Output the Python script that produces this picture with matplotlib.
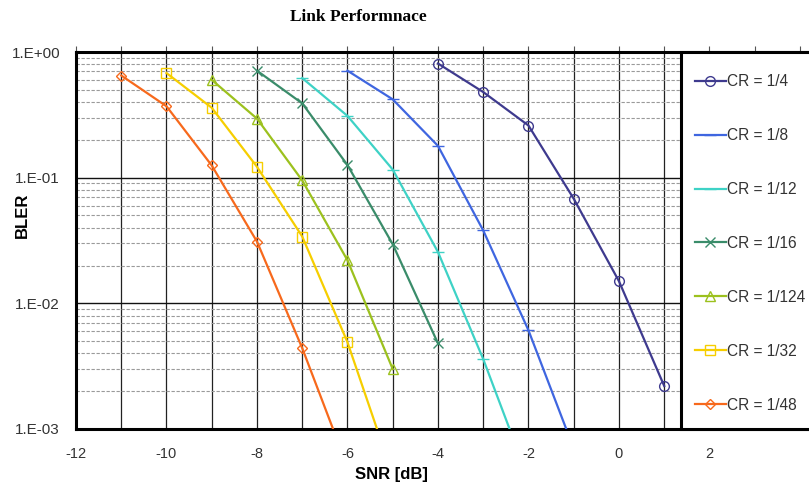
import numpy as np
import matplotlib
matplotlib.use("Agg")
import matplotlib.pyplot as plt
from matplotlib.patches import Rectangle
from matplotlib.ticker import FixedLocator, FuncFormatter, LogLocator

# -------------------------
# Data
# -------------------------
labels = ["CR = 1/4", "CR = 1/8", "CR = 1/12", "CR = 1/16",
          "CR = 1/124", "CR = 1/32", "CR = 1/48"]

snr_14 = [-4, -3, -2, -1, 0, 1]
bler_14 = [0.81, 0.48, 0.26, 0.068, 0.015, 0.0022]

snr_18 = [-6, -5, -4, -3, -2, -1]
bler_18 = [0.71, 0.42, 0.179, 0.038, 0.0061, 0.0007]

snr_112 = [-7, -6, -5, -4, -3, -2]
bler_112 = [0.62, 0.31, 0.116, 0.0256, 0.0036, 0.0004]

snr_116 = [-8, -7, -6, -5, -4]
bler_116 = [0.71, 0.39, 0.126, 0.0295, 0.0048]

snr_1124 = [-9, -8, -7, -6, -5]
bler_1124 = [0.60, 0.295, 0.095, 0.022, 0.003]

snr_132 = [-10, -9, -8, -7, -6, -5]
bler_132 = [0.68, 0.36, 0.122, 0.034, 0.0049, 0.00043]

snr_148 = [-11, -10, -9, -8, -7, -6]
bler_148 = [0.65, 0.37, 0.125, 0.031, 0.0044, 0.0005]

x_ticks = [-12, -10, -8, -6, -4, -2, 0, 2]
y_ticks = [1e-3, 1e-2, 1e-1, 1e0]
y_tick_labels = ["1.E-03", "1.E-02", "1.E-01", "1.E+00"]

# -------------------------
# Style
# -------------------------
series = [
    (snr_14, bler_14, "#3E3A8E", "o", 7),
    (snr_18, bler_18, "#3F66E0", "_", 8),
    (snr_112, bler_112, "#3ED2C6", "_", 8),
    (snr_116, bler_116, "#3A8C6A", "x", 7),
    (snr_1124, bler_1124, "#9CC11E", "^", 7),
    (snr_132, bler_132, "#F6CE00", "s", 7),
    (snr_148, bler_148, "#F7691C", "D", 5.5),
]

W, H, DPI = 809, 487, 100
fig = plt.figure(figsize=(W / DPI, H / DPI), dpi=DPI)

ax_left, ax_right = 76, 809
ax_top, ax_bot = 52, 429
ax = fig.add_axes([ax_left / W, 1 - ax_bot / H,
                   (ax_right - ax_left) / W, (ax_bot - ax_top) / H])

handles = []
for (x, y, c, m, ms), lab in zip(series, labels):
    h, = ax.plot(x, y, color=c, lw=1.6, marker=m, ms=ms,
                 mfc="none", mec=c, mew=1.0, label=lab, zorder=3)
    handles.append(h)

ax.set_yscale("log")
ax.set_ylim(1e-3, 1.0)
ax.set_xlim(-12, 4.2)

# gridlines
ax.xaxis.set_major_locator(FixedLocator(np.arange(-12, 5, 1)))
ax.xaxis.set_major_formatter(FuncFormatter(
    lambda v, p: f"{int(round(v))}" if int(round(v)) in x_ticks else ""))
ax.yaxis.set_major_locator(FixedLocator(y_ticks))
ax.set_yticklabels(y_tick_labels)
ax.yaxis.set_minor_locator(LogLocator(base=10, subs=np.arange(2, 10)))
ax.yaxis.set_minor_formatter(FuncFormatter(lambda v, p: ""))

ax.grid(True, axis="x", which="major", color="#222222", lw=0.9)
ax.grid(True, axis="y", which="major", color="#111111", lw=1.0)
ax.grid(True, axis="y", which="minor", color="#9a9a9a", lw=0.8,
        linestyle=(0, (3, 1.5)))
ax.set_axisbelow(True)

ax.tick_params(axis="x", which="major", bottom=False, top=True,
               labelbottom=True, labeltop=False, direction="out",
               length=4, width=0.8, color="#555555", pad=9,
               labelsize=10.5, labelcolor="#333333")
ax.tick_params(axis="y", which="both", left=False, right=False,
               pad=8, labelsize=11, labelcolor="#333333")

for s in ["left", "bottom", "top"]:
    ax.spines[s].set_linewidth(2.2)
    ax.spines[s].set_color("black")
ax.spines["right"].set_visible(False)

# legend box covering right part of the plot
leg_left = 681
fig.patches.append(Rectangle((leg_left / W, 1 - ax_bot / H),
                             (W + 10 - leg_left) / W, (ax_bot - ax_top) / H,
                             transform=fig.transFigure, facecolor="white",
                             edgecolor="black", lw=2.2, zorder=2))
leg = fig.legend(handles=handles, labels=labels, loc="upper left",
                 bbox_to_anchor=(689 / W, 1 - 68 / H), frameon=False,
                 fontsize=11.2, labelspacing=2.5, handlelength=1.95,
                 handletextpad=0.1, borderaxespad=0)
leg.set_zorder(5)
for t in leg.get_texts():
    t.set_color("#333333")

# titles
fig.text(358 / W, 1 - 17 / H, "Link Performnace", ha="center", va="center",
         fontsize=12.5, fontweight="bold", family="Liberation Serif")
fig.text(391 / W, 1 - 474 / H, "SNR [dB]", ha="center", va="center",
         fontsize=12, fontweight="bold", family="Liberation Sans")
fig.text(22 / W, 1 - 215 / H, "BLER", ha="center", va="center",
         rotation=90, fontsize=12, fontweight="bold", family="Liberation Sans")

for t in ax.get_xticklabels() + ax.get_yticklabels():
    t.set_family("Liberation Sans")
for t in leg.get_texts():
    t.set_family("Liberation Sans")

fig.savefig("out.png", dpi=DPI)
